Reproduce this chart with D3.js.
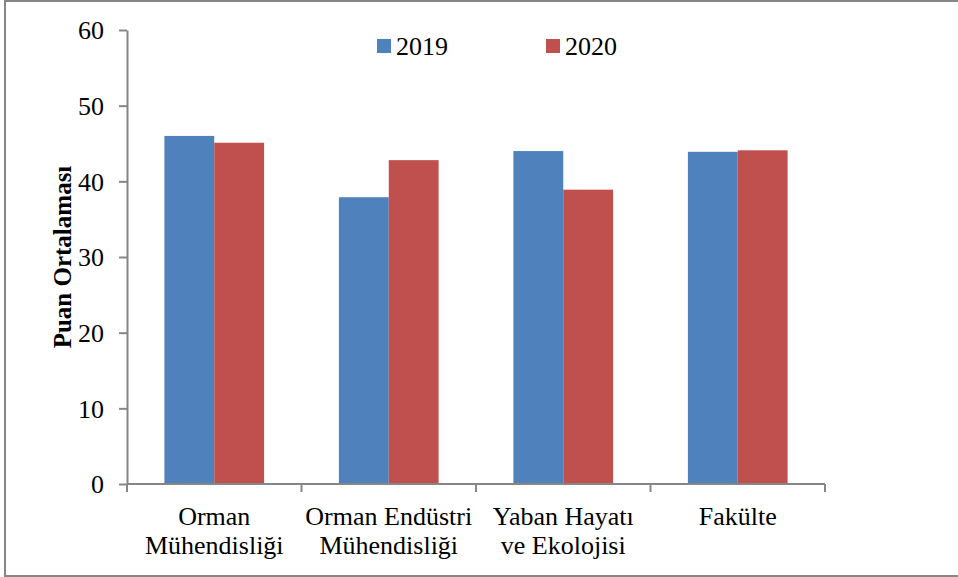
<!DOCTYPE html>
<html>
<head>
<meta charset="utf-8">
<script src="https://cdn.jsdelivr.net/npm/d3@7"></script>
<style>
  body { margin: 0; background: #fff; }
  svg text { font-family: "Liberation Serif", "Times New Roman", serif; fill: #000; }
  .axis path, .axis line { stroke: #868686; stroke-width: 2; }
  .axis text { font-size: 26px; }
</style>
</head>
<body>
<svg id="chart" width="958" height="577"></svg>
<script>
// data
var categories = ["Orman Mühendisliği", "Orman Endüstri Mühendisliği", "Yaban Hayatı ve Ekolojisi", "Fakülte"];
var categoryLines = [["Orman", "Mühendisliği"], ["Orman Endüstri", "Mühendisliği"], ["Yaban Hayatı", "ve Ekolojisi"], ["Fakülte"]];
var seriesNames = ["2019", "2020"];
var values2019 = [46.0, 37.9, 44.0, 43.9];
var values2020 = [45.1, 42.8, 38.9, 44.1];
var yTicks = [0, 10, 20, 30, 40, 50, 60];
var colors = { "2019": "#4F81BD", "2020": "#C0504D" };

var serif = '"Liberation Serif", "Times New Roman", serif';
var svg = d3.select("#chart");

// outer frame
svg.append("rect")
  .attr("x", 5).attr("y", 1)
  .attr("width", 960).attr("height", 575)
  .attr("fill", "none")
  .attr("stroke", "#868686")
  .attr("stroke-width", 2);

var plotLeft = 127, plotRight = 825, plotTop = 30, plotBottom = 484;

var x0 = d3.scaleBand().domain(categories).range([plotLeft, plotRight]);
var x1 = d3.scaleBand().domain(seriesNames).range([0, x0.bandwidth()]).paddingOuter(0.75);
var y = d3.scaleLinear().domain([0, 60]).range([plotBottom, plotTop]);

var rows = categories.map(function(c, i) {
  return { cat: c, vals: [ { key: "2019", value: values2019[i] }, { key: "2020", value: values2020[i] } ] };
});

// bars
var groups = svg.selectAll(".group")
  .data(rows)
  .enter().append("g")
  .attr("class", "group")
  .attr("transform", function(d) { return "translate(" + x0(d.cat) + ",0)"; });

groups.selectAll("rect")
  .data(function(d) { return d.vals; })
  .enter().append("rect")
  .attr("x", function(d) { return x1(d.key); })
  .attr("width", x1.bandwidth())
  .attr("y", function(d) { return y(d.value); })
  .attr("height", function(d) { return plotBottom - y(d.value); })
  .attr("fill", function(d) { return colors[d.key]; });

// y axis
svg.append("g")
  .attr("class", "axis")
  .attr("transform", "translate(" + plotLeft + ",0)")
  .call(d3.axisLeft(y).tickValues(yTicks).tickSize(8).tickSizeOuter(0).tickPadding(15).tickFormat(d3.format("d")))
  .call(function(g) { g.attr("font-family", null).attr("font-size", null); })
  .selectAll("text")
  .attr("dy", "0.34em")
  .style("font-family", serif);

// x axis: line with ticks at category boundaries
var xa = svg.append("g").attr("class", "axis");
xa.append("line")
  .attr("x1", plotLeft).attr("x2", plotRight)
  .attr("y1", plotBottom).attr("y2", plotBottom);
var bounds = categories.map(function(c) { return x0(c); }).concat([plotRight]);
xa.selectAll(".tk")
  .data(bounds)
  .enter().append("line")
  .attr("class", "tk")
  .attr("x1", function(d) { return d; }).attr("x2", function(d) { return d; })
  .attr("y1", plotBottom).attr("y2", plotBottom + 8);

var labels = xa.selectAll(".cat")
  .data(categories)
  .enter().append("text")
  .attr("class", "cat")
  .attr("text-anchor", "middle")
  .style("font-family", serif)
  .attr("x", function(d) { return x0(d) + x0.bandwidth() / 2; })
  .attr("y", 525);
labels.selectAll("tspan")
  .data(function(d, i) { return categoryLines[i]; })
  .enter().append("tspan")
  .attr("x", function() { return d3.select(this.parentNode).attr("x"); })
  .attr("dy", function(d, i) { return i === 0 ? 0 : 29; })
  .text(function(d) { return d; });

// y axis title
svg.append("text")
  .attr("transform", "translate(62," + ((plotTop + plotBottom) / 2) + ") rotate(-90)")
  .attr("text-anchor", "middle")
  .attr("dy", "0.35em")
  .style("font-family", serif)
  .style("font-size", "25px")
  .style("font-weight", "bold")
  .text("Puan Ortalaması");

// legend
var legendX = [377, 546];
var legend = svg.selectAll(".legend")
  .data(seriesNames)
  .enter().append("g")
  .attr("class", "legend")
  .attr("transform", function(d, i) { return "translate(" + legendX[i] + ",39)"; });
legend.append("rect")
  .attr("width", 14).attr("height", 14)
  .attr("fill", function(d) { return colors[d]; });
legend.append("text")
  .attr("x", 19).attr("y", 16)
  .style("font-family", serif)
  .style("font-size", "26px")
  .text(function(d) { return d; });
</script>
</body>
</html>
